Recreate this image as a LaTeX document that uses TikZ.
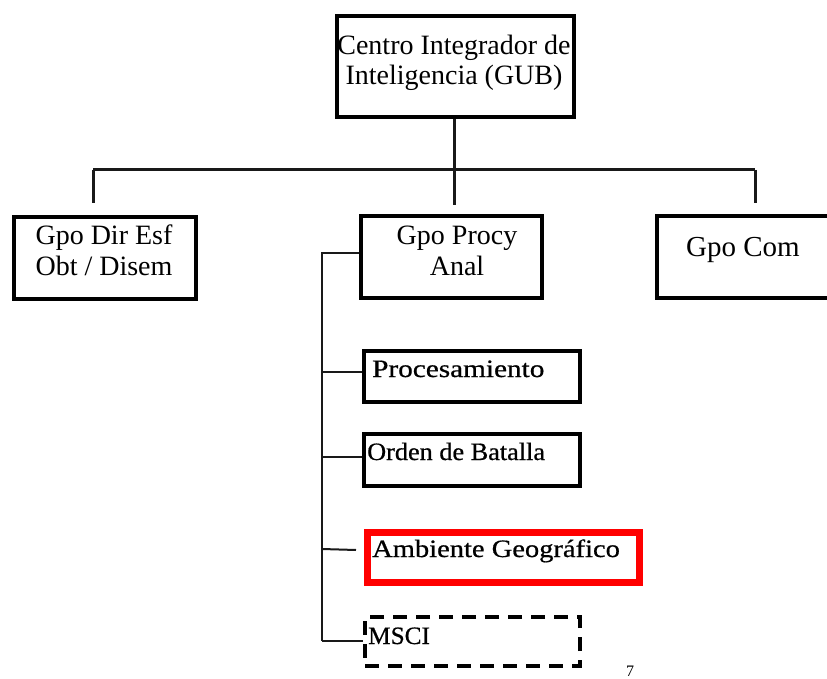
\documentclass[tikz,border=0pt]{standalone}
\usepackage{fontspec}
\setmainfont{Liberation Serif}
\newfontfamily\subfont[FakeBold=0.6]{Liberation Serif}
\newcommand{\fsz}[1]{\fontsize{#1}{#1}\selectfont}
\newcommand{\stretchtxt}[2]{\scalebox{#1}[1]{#2}}
\begin{document}
\begin{tikzpicture}[x=1pt,y=-1pt,
  box/.style={draw=black,line width=4pt,rectangle,inner sep=0pt,anchor=north west},
  link/.style={draw=black!90,line width=2pt},
  mainlink/.style={draw=black!90,line width=3pt},
  lbl/.style={inner sep=0pt,text=black},
  toplbl/.style={lbl,align=center,font=\fsz{28}\linespread{1.07}\selectfont},
  grplbl/.style={lbl,align=center,font=\fontsize{28}{31}\selectfont},
  sublbl/.style={lbl,anchor=base west,font=\subfont\fsz{25}},
]
\clip (0,0) rectangle (827,679);
\fill[white] (0,0) rectangle (827,679);

% head of the organisation
\node[box,minimum width=237pt,minimum height=101pt] (top) at (335,14) {};
\node[toplbl] (toptxt) at (454,63) {Centro Integrador de\\Inteligencia (GUB)};

% three groups
\node[box,minimum width=182pt,minimum height=82pt] (g1) at (12,215) {};
\node[box,minimum width=181pt,minimum height=82pt] (g2) at (359,214) {};
\node[box,minimum width=200pt,minimum height=82pt] (g3) at (655,214) {};
\node[grplbl] (g1txt) at (104,250) {Gpo Dir Esf\\Obt / Disem};
\node[grplbl] (g2txt) at (457,251) {Gpo Procy\\Anal};
\node[lbl,anchor=base,font=\fsz{29}] (g3txt) at (743,256) {Gpo Com};

% sections under Gpo Procy Anal
\node[box,line width=3.5pt,minimum width=216pt,minimum height=51pt] (s1) at (362,349) {};
\node[box,line width=3.5pt,minimum width=216pt,minimum height=52pt] (s2) at (362,432) {};
\node[box,draw=red,line width=7pt,minimum width=272pt,minimum height=50pt] (s3) at (364,529) {};
\node[box,dash pattern=on 14pt off 9pt,line width=4pt,minimum width=215pt,minimum height=49pt] (s4) at (363,615) {};
\node[sublbl] (s1txt) at (372,377) {\stretchtxt{1.17}{Procesamiento}};
\node[sublbl] (s2txt) at (367,460) {\stretchtxt{1.05}{Orden de Batalla}};
\node[sublbl] (s3txt) at (372,557) {\stretchtxt{1.14}{Ambiente Geográfico}};
\node[sublbl] (s4txt) at (368,644) {\stretchtxt{1.01}{MSCI}};

% page number
\node[lbl,anchor=north,font=\fsz{16}] (pg) at (630,666) {7};

% tree connectors
\coordinate (bus) at (454,170);
\coordinate (busL) at (93,170);
\coordinate (busR) at (755,170);
\coordinate (d1) at (93,203);
\coordinate (d2) at (454,205);
\coordinate (d3) at (755,203);
\draw[mainlink] (top.south -| bus) -- (bus);
\draw[mainlink] (busL) -- (busR);
\draw[mainlink] (busL) -- (d1);
\draw[mainlink] (bus) -- (d2);
\draw[mainlink] (busR) -- (d3);

\coordinate (spine) at (322,253);
\coordinate (spineEnd) at (322,641);
\draw[link] (g2.west |- spine) -- (spine) -- (spineEnd);
\draw[link] (322,372) -- (s1.west |- 0,372);
\draw[link] (322,457) -- (s2.west |- 0,457);
\draw[link] (322,549) -- (356,550);
\draw[link] (spineEnd) -- (s4.west |- spineEnd);
\end{tikzpicture}
\end{document}
